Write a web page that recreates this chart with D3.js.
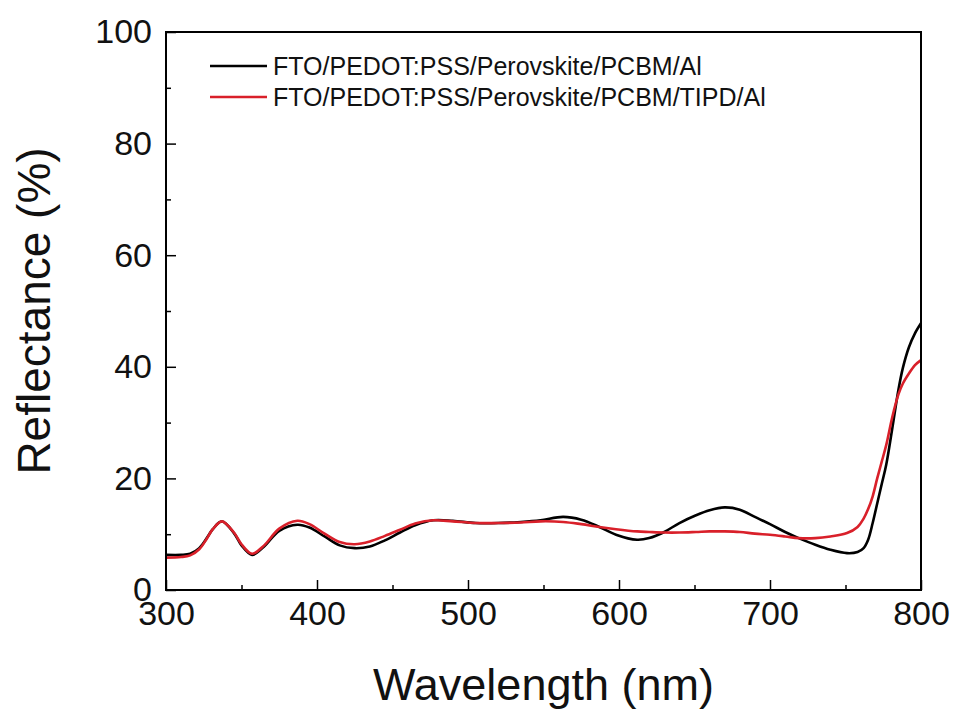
<!DOCTYPE html>
<html>
<head>
<meta charset="utf-8">
<script src="https://cdn.jsdelivr.net/npm/d3@7"></script>
<style>
  body { margin: 0; background: #fff; }
  svg { font-family: Arial, "Liberation Sans", sans-serif; }
</style>
</head>
<body>
<svg width="955" height="709"></svg>
<script>
// wavelengths (nm) and reflectance (%)
var wavelength = [300, 310, 316, 322, 327, 331, 337, 345, 350, 357, 365, 375, 387, 395, 405, 415, 425, 435, 445, 455, 465,
    477, 490, 505, 520, 535, 548, 563, 575, 587, 598, 612, 620, 630, 640, 651, 660, 670, 680, 690, 700,
    710, 719, 730, 740, 751, 758, 762, 765, 768, 771, 774, 777, 781, 785, 788, 792, 796, 800];

var reflAl = [6.3, 6.3, 6.5, 7.5, 9.3, 10.9, 12.3, 10.2, 8.0, 6.3, 7.8, 10.6, 11.7, 11.2, 9.6, 8.0, 7.5, 7.8, 8.9, 10.3, 11.6,
    12.5, 12.4, 12.0, 12.0, 12.2, 12.5, 13.1, 12.6, 11.3, 9.9, 9.0, 9.3, 10.4, 12.0, 13.4, 14.3, 14.8, 14.4, 13.1, 11.8,
    10.4, 9.3, 8.1, 7.2, 6.6, 6.8, 7.5, 9.0, 12.0, 15.5, 19.0, 22.5, 29.0, 35.8, 39.8, 43.5, 46.0, 47.8];

var reflTipd = [5.8, 5.9, 6.2, 7.3, 9.2, 10.9, 12.3, 10.3, 8.2, 6.5, 8.0, 11.0, 12.4, 11.8, 10.1, 8.6, 8.2, 8.7, 9.7, 10.8, 11.9,
    12.5, 12.3, 12.0, 12.0, 12.1, 12.3, 12.2, 11.8, 11.3, 10.9, 10.5, 10.4, 10.3, 10.3, 10.4, 10.5, 10.5, 10.4, 10.1, 9.9,
    9.6, 9.3, 9.3, 9.6, 10.2, 11.3, 12.8, 14.5, 16.8, 20.0, 23.0, 26.0, 31.0, 35.0, 37.0, 38.8, 40.3, 41.2];

var seriesNames = ['FTO/PEDOT:PSS/Perovskite/PCBM/Al', 'FTO/PEDOT:PSS/Perovskite/PCBM/TIPD/Al'];
var seriesColors = ['#000000', '#d9202a'];

var xTicks = [300, 400, 500, 600, 700, 800];
var xMinor = [350, 450, 550, 650, 750];
var yTicks = [0, 20, 40, 60, 80, 100];
var yMinor = [10, 30, 50, 70, 90];

var svg = d3.select('svg');

var plotL = 166, plotR = 921, plotT = 32, plotB = 590;

var x = d3.scaleLinear().domain([300, 800]).range([plotL, plotR]);
var y = d3.scaleLinear().domain([0, 100]).range([plotB, plotT]);

// minor ticks
svg.append('g')
    .attr('transform', 'translate(0,' + plotB + ')')
    .call(d3.axisBottom(x).tickValues(xMinor).tickSize(-5).tickFormat(''))
    .call(function(g){ g.select('.domain').remove(); });

svg.append('g')
    .attr('transform', 'translate(' + plotL + ',0)')
    .call(d3.axisLeft(y).tickValues(yMinor).tickSize(-5).tickFormat(''))
    .call(function(g){ g.select('.domain').remove(); });

// major ticks + labels
var xAxis = svg.append('g')
    .attr('transform', 'translate(0,' + plotB + ')')
    .call(d3.axisBottom(x).tickValues(xTicks).tickSize(-10).tickPadding(11).tickFormat(d3.format('d')));
xAxis.select('.domain').remove();

var yAxis = svg.append('g')
    .attr('transform', 'translate(' + plotL + ',0)')
    .call(d3.axisLeft(y).tickValues(yTicks).tickSize(-10).tickPadding(14).tickFormat(d3.format('d')));
yAxis.select('.domain').remove();

svg.selectAll('.tick line')
    .attr('stroke', '#000')
    .attr('stroke-width', 1.5);

svg.selectAll('.tick text')
    .attr('font-family', 'Arial, "Liberation Sans", sans-serif')
    .attr('font-size', 34)
    .attr('fill', '#111');

// curves
var data = [reflAl, reflTipd];

var line = d3.line()
    .x(function(d, i){ return x(wavelength[i]); })
    .y(function(d){ return y(d); })
    .curve(d3.curveCatmullRom.alpha(0.5));

svg.selectAll('path.curve')
    .data(data)
    .enter()
    .append('path')
    .attr('class', 'curve')
    .attr('d', line)
    .attr('fill', 'none')
    .attr('stroke', function(d, i){ return seriesColors[i]; })
    .attr('stroke-width', 2.6)
    .attr('stroke-linejoin', 'round');

// frame
svg.append('rect')
    .attr('x', plotL)
    .attr('y', plotT)
    .attr('width', plotR - plotL)
    .attr('height', plotB - plotT)
    .attr('fill', 'none')
    .attr('stroke', '#000')
    .attr('stroke-width', 2);

// legend
var legend = svg.selectAll('g.legend')
    .data(seriesNames)
    .enter()
    .append('g')
    .attr('class', 'legend')
    .attr('transform', function(d, i){ return 'translate(210,' + (66 + i * 31) + ')'; });

legend.append('line')
    .attr('x1', 0)
    .attr('x2', 57)
    .attr('stroke', function(d, i){ return seriesColors[i]; })
    .attr('stroke-width', 2.6);

legend.append('text')
    .attr('x', 63)
    .attr('dy', '0.35em')
    .attr('font-size', 25)
    .attr('fill', '#111')
    .text(function(d){ return d; });

// axis titles
svg.append('text')
    .attr('x', (plotL + plotR) / 2)
    .attr('y', 700)
    .attr('text-anchor', 'middle')
    .attr('font-size', 45)
    .attr('fill', '#111')
    .text('Wavelength (nm)');

svg.append('text')
    .attr('transform', 'translate(50,' + ((plotT + plotB) / 2) + ') rotate(-90)')
    .attr('text-anchor', 'middle')
    .attr('font-size', 46)
    .attr('fill', '#111')
    .text('Reflectance (%)');
</script>
</body>
</html>
